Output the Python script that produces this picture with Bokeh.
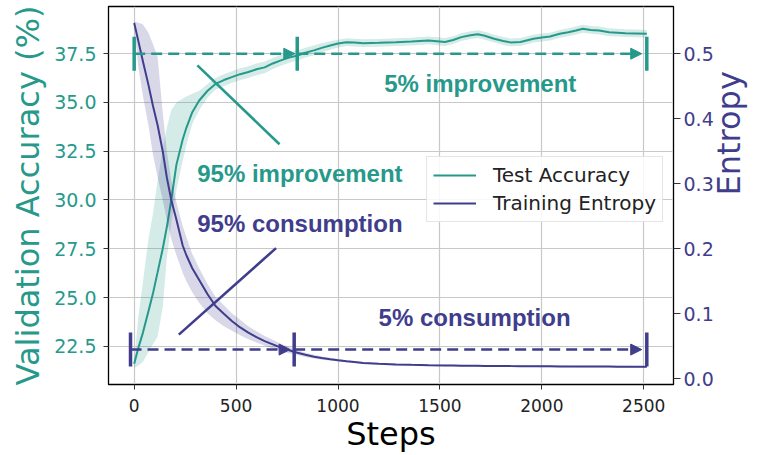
import math
from bokeh.plotting import figure
from bokeh.models import (Range1d, LinearAxis, FixedTicker, PrintfTickFormatter,
                          Arrow, NormalHead, Legend, LegendItem, Label)
from bokeh.embed import file_html
from bokeh.resources import INLINE

TEAL = "#26998b"
PURPLE = "#403d8c"

steps = [0, 20, 43, 70, 92, 115, 140, 160, 182, 207,
         238, 256, 285, 319, 360, 399, 440, 479, 520, 560,
         600, 640, 680, 720, 760, 801, 840, 882, 920, 962,
         1000, 1042, 1080, 1123, 1200, 1284, 1360, 1444, 1525, 1565,
         1605, 1650, 1686, 1720, 1766, 1810, 1847, 1895, 1959, 2000,
         2040, 2088, 2130, 2168, 2201, 2240, 2281, 2330, 2370, 2410,
         2460, 2515]

acc_mean = [21.6, 22.4, 23.2, 24.3, 25.2, 26.3, 27.5, 28.6, 30.0, 31.8,
            33.1, 33.7, 34.5, 35.1, 35.6, 35.95, 36.15, 36.3, 36.45, 36.56,
            36.7, 36.8, 37.0, 37.16, 37.3, 37.41, 37.55, 37.67, 37.8, 37.92,
            38.02, 38.09, 38.07, 38.04, 38.06, 38.09, 38.12, 38.18, 38.1, 38.2,
            38.35, 38.45, 38.5, 38.42, 38.27, 38.15, 38.08, 38.1, 38.27, 38.33,
            38.38, 38.52, 38.6, 38.69, 38.78, 38.72, 38.69, 38.6, 38.58, 38.55,
            38.54, 38.52]
acc_hi = [21.7, 24.0, 25.8, 28.0, 29.3, 31.0, 32.6, 33.7, 34.6, 35.0,
          35.2, 35.3, 35.45, 35.6, 35.95, 36.25, 36.45, 36.6, 36.75, 36.86,
          37.0, 37.1, 37.28, 37.44, 37.56, 37.67, 37.8, 37.92, 38.03, 38.14,
          38.22, 38.29, 38.27, 38.24, 38.26, 38.29, 38.32, 38.38, 38.3, 38.4,
          38.55, 38.65, 38.7, 38.62, 38.47, 38.35, 38.28, 38.3, 38.47, 38.53,
          38.58, 38.72, 38.8, 38.89, 38.98, 38.92, 38.89, 38.8, 38.78, 38.75,
          38.74, 38.72]
acc_lo = [21.4, 21.5, 21.7, 22.2, 22.6, 23.0, 24.5, 27.0, 28.8, 30.5,
          32.0, 32.8, 33.9, 34.6, 35.25, 35.65, 35.85, 36.0, 36.15, 36.26,
          36.4, 36.5, 36.72, 36.88, 37.04, 37.15, 37.3, 37.42, 37.57, 37.7,
          37.82, 37.89, 37.87, 37.84, 37.86, 37.89, 37.92, 37.98, 37.9, 38.0,
          38.15, 38.25, 38.3, 38.22, 38.07, 37.95, 37.88, 37.9, 38.07, 38.13,
          38.18, 38.32, 38.4, 38.49, 38.58, 38.52, 38.49, 38.4, 38.38, 38.35,
          38.34, 38.32]

ent_mean = [0.547, 0.52, 0.488, 0.452, 0.42, 0.39, 0.35, 0.31, 0.275, 0.245,
            0.205, 0.19, 0.17, 0.152, 0.13, 0.112, 0.1, 0.089, 0.079, 0.071,
            0.064, 0.058, 0.053, 0.048, 0.044, 0.040, 0.037, 0.034, 0.032, 0.030,
            0.0285, 0.027, 0.026, 0.0245, 0.0232, 0.022, 0.0215, 0.021, 0.0207, 0.0205,
            0.0203, 0.0201, 0.02, 0.0199, 0.0198, 0.0197, 0.0196, 0.0195, 0.0194, 0.0193,
            0.0192, 0.0191, 0.019, 0.019, 0.0189, 0.0189, 0.0188, 0.0188, 0.0187, 0.0187,
            0.0186, 0.0185]
ent_hi = [0.549, 0.548, 0.545, 0.532, 0.515, 0.495, 0.41, 0.35, 0.305, 0.272,
          0.235, 0.218, 0.192, 0.17, 0.146, 0.126, 0.113, 0.101, 0.091, 0.081,
          0.073, 0.066, 0.060, 0.054, 0.049, 0.044, 0.040, 0.037, 0.0345, 0.0325,
          0.0305, 0.0285, 0.0274, 0.0258, 0.0245, 0.0233, 0.0228, 0.0223, 0.022, 0.0218,
          0.0216, 0.0214, 0.0213, 0.0212, 0.0211, 0.021, 0.0209, 0.0208, 0.0207, 0.0206,
          0.0205, 0.0204, 0.0203, 0.0203, 0.0202, 0.0202, 0.0201, 0.0201, 0.02, 0.02,
          0.0199, 0.0198]
ent_lo = [0.545, 0.48, 0.435, 0.39, 0.345, 0.31, 0.275, 0.245, 0.215, 0.19,
          0.163, 0.15, 0.133, 0.117, 0.101, 0.09, 0.081, 0.074, 0.067, 0.061,
          0.056, 0.051, 0.047, 0.043, 0.0395, 0.0365, 0.0335, 0.0312, 0.0295, 0.0282,
          0.027, 0.0256, 0.0246, 0.0232, 0.0219, 0.0207, 0.0202, 0.0197, 0.0194, 0.0192,
          0.019, 0.0188, 0.0187, 0.0186, 0.0185, 0.0184, 0.0183, 0.0182, 0.0181, 0.018,
          0.0179, 0.0178, 0.0177, 0.0177, 0.0176, 0.0176, 0.0175, 0.0175, 0.0174, 0.0174,
          0.0173, 0.0172]

x_ticks = [0, 500, 1000, 1500, 2000, 2500]
acc_ticks = [22.5, 25.0, 27.5, 30.0, 32.5, 35.0, 37.5]
ent_ticks = [0.0, 0.1, 0.2, 0.3, 0.4, 0.5]

# annotation levels / marks
acc_level = 37.5
ent_level = 0.045
acc_marks = [0, 800, 2515]
ent_marks = [-18, 785, 2515]

p = figure(width=769, height=455, output_backend="svg", toolbar_location=None,
           x_range=Range1d(-126, 2646), y_range=Range1d(20.54, 39.92),
           min_border_left=108, min_border_right=86, min_border_top=6,
           min_border_bottom=70)
p.extra_y_ranges = {"ent": Range1d(-0.0087, 0.5725)}
p.background_fill_color = "white"
p.border_fill_color = "white"
p.outline_line_color = "black"
p.outline_line_width = 1.3

# grids
p.xgrid.ticker = FixedTicker(ticks=x_ticks)
p.ygrid.ticker = FixedTicker(ticks=acc_ticks)
for g in (p.xgrid[0], p.ygrid[0]):
    g.grid_line_color = "#c8c8c8"
    g.grid_line_width = 1.2

# x axis
xa = p.xaxis[0]
xa.ticker = FixedTicker(ticks=x_ticks)
xa.axis_label = "Steps"
xa.axis_label_text_font = "DejaVu Sans"
xa.axis_label_text_font_style = "normal"
xa.axis_label_text_font_size = "32px"
xa.axis_label_text_color = "black"
xa.axis_label_standoff = 0
xa.major_label_text_font = "DejaVu Sans"
xa.major_label_text_font_size = "17px"
xa.major_label_text_color = "#222222"
xa.major_label_standoff = 9
xa.major_tick_out = 5
xa.major_tick_in = 0
xa.minor_tick_out = 0
xa.minor_tick_in = 0
xa.axis_line_color = "black"
xa.major_tick_line_color = "#333333"

# left axis
ya = p.yaxis[0]
ya.ticker = FixedTicker(ticks=acc_ticks)
ya.formatter = PrintfTickFormatter(format="%.1f")
ya.axis_label = "Validation Accuracy (%)"
ya.axis_label_text_font = "DejaVu Sans"
ya.axis_label_text_font_style = "normal"
ya.axis_label_text_font_size = "32px"
ya.axis_label_text_color = TEAL
ya.axis_label_standoff = 4
ya.major_label_text_font = "DejaVu Sans"
ya.major_label_text_font_size = "19px"
ya.major_label_text_color = TEAL
ya.major_label_standoff = 7
ya.major_tick_out = 5
ya.major_tick_in = 0
ya.minor_tick_out = 0
ya.minor_tick_in = 0
ya.axis_line_color = "black"
ya.major_tick_line_color = "#333333"

# right axis (title reads bottom-to-top)
ra = LinearAxis(y_range_name="ent")
ra.ticker = FixedTicker(ticks=ent_ticks)
ra.formatter = PrintfTickFormatter(format="%.1f")
ra.axis_label = "Entropy"
ra.axis_label_text_font = "DejaVu Sans"
ra.axis_label_text_font_style = "normal"
ra.axis_label_text_font_size = "32px"
ra.axis_label_text_color = PURPLE
ra.axis_label_standoff = 12
ra.axis_label_orientation = math.pi / 2
ra.major_label_text_font = "DejaVu Sans"
ra.major_label_text_font_size = "19px"
ra.major_label_text_color = PURPLE
ra.major_label_standoff = 3
ra.major_tick_out = 7
ra.major_tick_in = 0
ra.minor_tick_out = 0
ra.minor_tick_in = 0
ra.axis_line_color = "black"
ra.major_tick_line_color = "#333333"
p.add_layout(ra, "right")

# bands and lines
p.varea(x=steps, y1=acc_lo, y2=acc_hi, fill_color=TEAL, fill_alpha=0.2)
acc_line = p.line(steps, acc_mean, line_color=TEAL, line_width=2)
p.varea(x=steps, y1=ent_lo, y2=ent_hi, fill_color=PURPLE, fill_alpha=0.2,
        y_range_name="ent")
ent_line = p.line(steps, ent_mean, line_color=PURPLE, line_width=2,
                  y_range_name="ent")

# annotation arrows (dashed, filled head)
def dashed_arrow(x0, x1, y, color, rng):
    kw = {} if rng is None else {"y_range_name": rng}
    a = Arrow(end=NormalHead(size=11, fill_color=color, line_color=color, line_width=1),
              x_start=x0, y_start=y, x_end=x1, y_end=y,
              line_color=color, line_width=2.6, line_dash="11 6", **kw)
    p.add_layout(a)

dashed_arrow(acc_marks[0], acc_marks[1] - 12, acc_level, TEAL, None)
dashed_arrow(acc_marks[1], acc_marks[2] - 25, acc_level, TEAL, None)
dashed_arrow(ent_marks[0], ent_marks[1] - 20, ent_level, PURPLE, "ent")
dashed_arrow(ent_marks[1], ent_marks[2] - 25, ent_level, PURPLE, "ent")

# vertical bar marks
p.scatter(acc_marks, [acc_level] * len(acc_marks), marker="dash", angle=1.5708,
          size=34, line_color=TEAL, line_width=3.5)
p.scatter(ent_marks, [ent_level] * len(ent_marks), marker="dash", angle=1.5708,
          size=34, line_color=PURPLE, line_width=3.5, y_range_name="ent")

# diagonal pointer lines
p.line([310, 713], [36.9, 32.86], line_color=TEAL, line_width=2.6)
p.line([219, 696], [0.068, 0.201], line_color=PURPLE, line_width=2.6,
       y_range_name="ent")

# annotation texts
def note(x, y, txt, color, rng=None):
    kw = {} if rng is None else {"y_range_name": rng}
    p.add_layout(Label(x=x, y=y, text=txt, text_color=color,
                       text_font="Liberation Sans", text_font_style="bold",
                       text_font_size="24px", text_align="center",
                       text_baseline="middle", **kw))

note(813, 31.36, "95% improvement", TEAL)
note(1698, 35.97, "5% improvement", TEAL)
note(813, 0.2393, "95% consumption", PURPLE, "ent")
note(1670, 0.0936, "5% consumption", PURPLE, "ent")

legend = Legend(items=[LegendItem(label="Test Accuracy", renderers=[acc_line]),
                       LegendItem(label="Training Entropy", renderers=[ent_line])],
                location=(318, 162))
legend.label_text_font = "DejaVu Sans"
legend.label_text_font_size = "20px"
legend.label_text_color = "#222222"
legend.glyph_width = 43
legend.glyph_height = 20
legend.label_height = 20
legend.label_standoff = 17
legend.spacing = 4
legend.padding = 6
legend.margin = 0
legend.border_line_color = "#cccccc"
legend.border_line_width = 1
legend.background_fill_alpha = 0.85
p.add_layout(legend)

open("out.html", "w").write(file_html(p, INLINE))
